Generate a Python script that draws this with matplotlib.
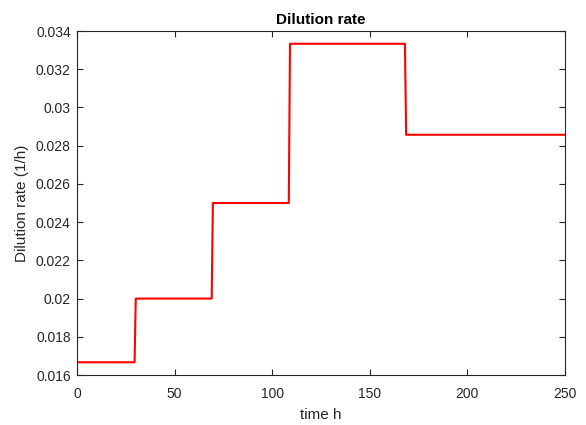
import numpy as np
import matplotlib.pyplot as plt

plt.rcParams['font.family'] = ['Liberation Sans', 'DejaVu Sans']

# step schedule of the dilution rate
switch_times = [0, 29.5, 69, 108.5, 168, 250]
rates = [1/60, 1/50, 1/40, 1/30, 1/35]

# build the staircase (small ramp at each switch)
t, d = [], []
for i, r in enumerate(rates):
    t0 = switch_times[i] + (0.6 if i > 0 else 0)
    t += [t0, switch_times[i + 1]]
    d += [r, r]

fig = plt.figure(figsize=(5.86, 4.25), dpi=100)
ax = fig.add_axes([0.1314, 0.1176, 0.8328, 0.8094])

ax.plot(t, d, color='red', linewidth=1.5)

ax.set_xlim(0, 250)
ax.set_ylim(0.016, 0.034)
ax.set_xticks([0, 50, 100, 150, 200, 250])
yt = np.arange(0.016, 0.0341, 0.002)
ax.set_yticks(yt)
ax.set_yticklabels([('%.3f' % v).rstrip('0') for v in yt])

gray = '#262626'
ax.tick_params(direction='in', top=True, right=True, length=4,
               width=0.8, colors=gray, labelsize=10)
ax.tick_params(axis='x', pad=8.5)
ax.tick_params(axis='y', pad=4.5)
for s in ax.spines.values():
    s.set_color(gray)
    s.set_linewidth(0.8)

ax.set_title('Dilution rate', fontsize=11, fontweight='bold', color='black', pad=5)
ax.set_xlabel('time h', fontsize=11, color=gray, labelpad=5)
ax.set_ylabel('Dilution rate (1/h)', fontsize=11, color=gray, labelpad=5)

fig.savefig('out.png', dpi=100)
